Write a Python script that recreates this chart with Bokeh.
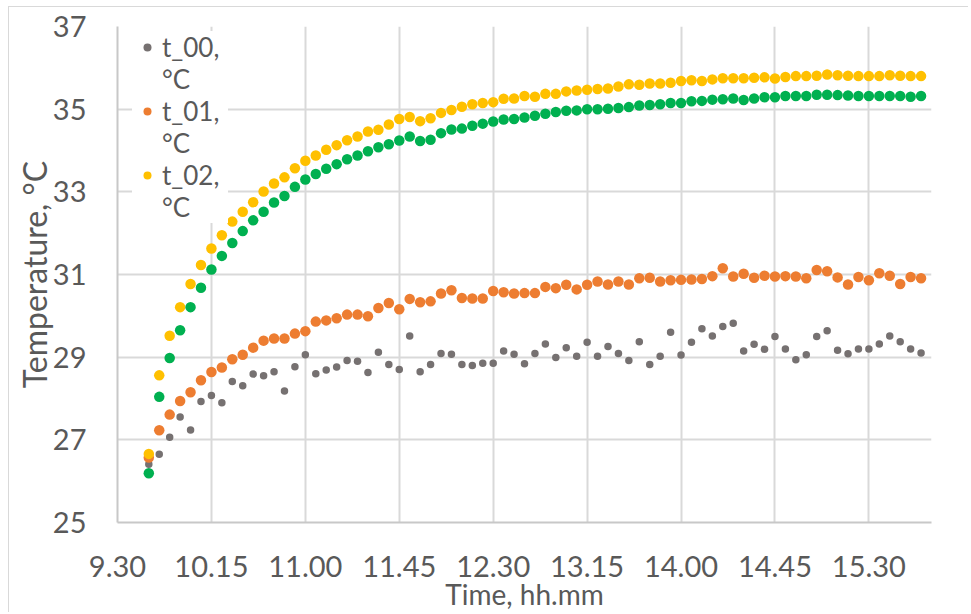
from bokeh.plotting import figure
from bokeh.models import (Range1d, FixedTicker, Legend, LegendItem)
from bokeh.core.properties import value
from bokeh.embed import file_html
from bokeh.resources import INLINE

# ---- data ----
times = ["9.45", "9.50", "9.55",
         "10.00", "10.05", "10.10", "10.15", "10.20", "10.25", "10.30", "10.35", "10.40", "10.45", "10.50", "10.55",
         "11.00", "11.05", "11.10", "11.15", "11.20", "11.25", "11.30", "11.35", "11.40", "11.45", "11.50", "11.55",
         "12.00", "12.05", "12.10", "12.15", "12.20", "12.25", "12.30", "12.35", "12.40", "12.45", "12.50", "12.55",
         "13.00", "13.05", "13.10", "13.15", "13.20", "13.25", "13.30", "13.35", "13.40", "13.45", "13.50", "13.55",
         "14.00", "14.05", "14.10", "14.15", "14.20", "14.25", "14.30", "14.35", "14.40", "14.45", "14.50", "14.55",
         "15.00", "15.05", "15.10", "15.15", "15.20", "15.25", "15.30", "15.35", "15.40", "15.45", "15.50", "15.55"]

t_00 = [26.41, 26.65, 27.06, 27.55, 27.24, 27.93, 28.07, 27.90, 28.41, 28.31,
        28.59, 28.55, 28.65, 28.18, 28.77, 29.06, 28.60, 28.69, 28.76, 28.92,
        28.90, 28.63, 29.12, 28.82, 28.70, 29.51, 28.65, 28.82, 29.09, 29.07,
        28.82, 28.80, 28.85, 28.85, 29.15, 29.07, 28.84, 29.09, 29.32, 28.99,
        29.23, 29.02, 29.36, 29.02, 29.26, 29.09, 28.92, 29.37, 28.82, 29.02,
        29.60, 29.05, 29.36, 29.69, 29.51, 29.74, 29.82, 29.15, 29.31, 29.19,
        29.50, 29.20, 28.94, 29.06, 29.50, 29.64, 29.17, 29.08, 29.20, 29.20,
        29.32, 29.51, 29.37, 29.20, 29.10]

t_01 = [26.57, 27.23, 27.61, 27.94, 28.15, 28.44, 28.64, 28.75, 28.95, 29.06,
        29.23, 29.40, 29.45, 29.45, 29.57, 29.63, 29.86, 29.89, 29.94, 30.03,
        30.03, 29.99, 30.19, 30.31, 30.16, 30.41, 30.33, 30.35, 30.54, 30.62,
        30.43, 30.42, 30.42, 30.60, 30.57, 30.54, 30.55, 30.55, 30.70, 30.67,
        30.75, 30.64, 30.75, 30.83, 30.76, 30.83, 30.76, 30.91, 30.92, 30.83,
        30.86, 30.87, 30.88, 30.89, 30.96, 31.15, 30.95, 31.02, 30.92, 30.97,
        30.95, 30.96, 30.95, 30.91, 31.11, 31.08, 30.93, 30.76, 30.94, 30.86,
        31.03, 30.97, 30.77, 30.94, 30.91]

t_02 = [26.66, 28.56, 29.52, 30.21, 30.77, 31.23, 31.63, 31.95, 32.28, 32.52,
        32.75, 33.01, 33.20, 33.35, 33.57, 33.75, 33.88, 34.02, 34.13, 34.25,
        34.34, 34.46, 34.50, 34.63, 34.76, 34.81, 34.71, 34.78, 34.91, 34.98,
        35.06, 35.12, 35.15, 35.17, 35.25, 35.26, 35.32, 35.30, 35.37, 35.37,
        35.43, 35.45, 35.47, 35.49, 35.50, 35.55, 35.60, 35.59, 35.62, 35.62,
        35.64, 35.68, 35.70, 35.68, 35.72, 35.75, 35.75, 35.75, 35.76, 35.77,
        35.74, 35.78, 35.80, 35.80, 35.81, 35.84, 35.82, 35.81, 35.80, 35.80,
        35.80, 35.82, 35.81, 35.80, 35.80]

t_03 = [26.19, 28.04, 28.98, 29.65, 30.21, 30.68, 31.12, 31.45, 31.76, 32.05,
        32.31, 32.52, 32.74, 32.90, 33.12, 33.30, 33.43, 33.56, 33.67, 33.79,
        33.88, 33.98, 34.08, 34.15, 34.24, 34.34, 34.23, 34.26, 34.42, 34.51,
        34.53, 34.60, 34.65, 34.70, 34.75, 34.76, 34.80, 34.84, 34.89, 34.93,
        34.96, 34.97, 35.00, 35.00, 35.01, 35.03, 35.05, 35.09, 35.10, 35.12,
        35.15, 35.15, 35.19, 35.20, 35.23, 35.24, 35.26, 35.22, 35.26, 35.29,
        35.29, 35.32, 35.32, 35.32, 35.35, 35.35, 35.34, 35.33, 35.32, 35.32,
        35.32, 35.32, 35.32, 35.30, 35.32]

x_tick_labels = ["9.30", "10.15", "11.00", "11.45", "12.30", "13.15", "14.00", "14.45", "15.30"]
y_ticks = [25, 27, 29, 31, 33, 35, 37]
x_min_label, x_max_label = "9.30", "16.00"

legend_labels = ["t_00,", "t_01,", "t_02,"]
unit_label = "°C"


def hhmm_to_hours(s):
    h, m = s.split(".")
    return int(h) + int(m) / 60.0


x = [hhmm_to_hours(s) for s in times]
x_ticks = [hhmm_to_hours(s) for s in x_tick_labels]

TEXT = "#595959"
FONT = "Lato"

p = figure(width=960, height=606, output_backend="svg", toolbar_location=None,
           x_range=Range1d(hhmm_to_hours(x_min_label), hhmm_to_hours(x_max_label)),
           y_range=Range1d(25, 37),
           min_border_left=108, min_border_right=38, min_border_top=19, min_border_bottom=91,
           styles={"margin-left": "8px", "margin-top": "6px",
                   "border-left": "1px solid #d9d9d9", "border-top": "1px solid #d9d9d9"})
p.outline_line_color = None
p.background_fill_color = "white"
p.border_fill_color = "white"

# axes
p.xaxis.ticker = FixedTicker(ticks=x_ticks)
p.xaxis.major_label_overrides = {t: lab for t, lab in zip(x_ticks, x_tick_labels)}
p.yaxis.ticker = FixedTicker(ticks=y_ticks)
for ax in (p.xaxis, p.yaxis):
    ax.major_tick_line_color = None
    ax.minor_tick_line_color = None
    ax.major_tick_out = 0
    ax.major_tick_in = 0
    ax.minor_tick_out = 0
    ax.minor_tick_in = 0
    ax.axis_line_color = "#c8c8c8"
    ax.axis_line_width = 2
    ax.major_label_text_font = FONT
    ax.major_label_text_font_size = "29px"
    ax.major_label_text_color = TEXT
    ax.axis_label_text_font = FONT
    ax.axis_label_text_font_style = "normal"
    ax.axis_label_text_color = TEXT
p.xaxis.major_label_standoff = 33
p.yaxis.major_label_standoff = 31
p.yaxis.axis_label = "Temperature, °C"
p.yaxis.axis_label_text_font_size = "32px"
p.yaxis.axis_label_standoff = -4
p.xaxis.axis_label = "Time, hh.mm"
p.xaxis.axis_label_text_font_size = "28px"
p.xaxis.axis_label_standoff = -3

p.xgrid.ticker = FixedTicker(ticks=x_ticks)
p.ygrid.ticker = FixedTicker(ticks=y_ticks)
for g in (p.xgrid, p.ygrid):
    g.grid_line_color = "#d9d9d9"
    g.grid_line_width = 2

# series
r0 = p.scatter(x, t_00, size=7.5, fill_color="#767171", line_color=None)
r1 = p.scatter(x, t_01, size=10.5, fill_color="#ED7D31", line_color=None)
r2 = p.scatter(x, t_02, size=10.5, fill_color="#FFC000", line_color=None)
r3 = p.scatter(x, t_03, size=10.5, fill_color="#00B050", line_color=None)
blank = p.scatter([], [], size=10, fill_alpha=0, line_alpha=0)

items = []
for lab, r in zip(legend_labels, (r0, r1, r2)):
    items.append(LegendItem(label=value(lab), renderers=[r]))
    items.append(LegendItem(label=value(unit_label), renderers=[blank]))

legend = Legend(items=items, location=(15, 299), orientation="vertical",
                spacing=0, padding=4, margin=0, glyph_width=30, glyph_height=20,
                label_height=31, label_width=66, label_standoff=0,
                label_text_font=FONT, label_text_font_size="26px",
                label_text_color=TEXT, label_text_baseline="middle",
                background_fill_color="white", background_fill_alpha=1.0,
                border_line_color=None)
p.add_layout(legend)

open("out.html", "w").write(file_html(p, INLINE))
